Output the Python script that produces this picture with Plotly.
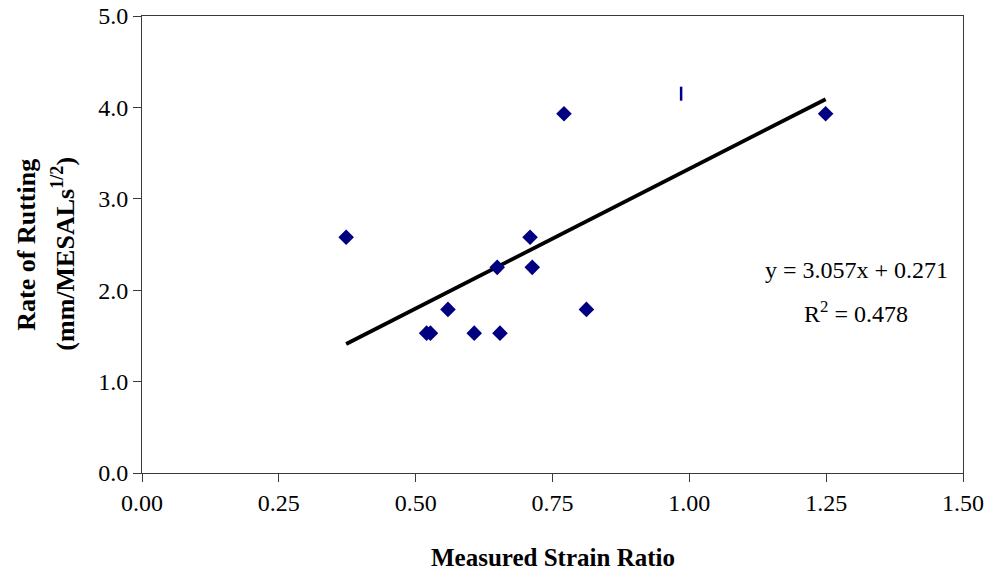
import plotly.graph_objects as go

# Data
strain_ratio = [0.373, 0.771, 1.249, 0.709, 0.649, 0.713, 0.559, 0.812, 0.520, 0.527, 0.607, 0.654]
rut_rate = [2.58, 3.93, 3.93, 2.58, 2.25, 2.25, 1.79, 1.79, 1.53, 1.53, 1.53, 1.53]

outlier_x = [0.985]
outlier_y = [4.15]

slope = 3.057
intercept = 0.271
r_squared = 0.478

x_ticks = [0.0, 0.25, 0.5, 0.75, 1.0, 1.25, 1.5]
y_ticks = [0.0, 1.0, 2.0, 3.0, 4.0, 5.0]

trend_x = [min(strain_ratio), max(strain_ratio)]
trend_y = [slope * v + intercept for v in trend_x]

FONT = "Liberation Serif"
AXC = "#3a3a3a"

fig = go.Figure()
fig.add_trace(go.Scatter(
    x=trend_x, y=trend_y, mode="lines",
    line=dict(color="black", width=3.8), showlegend=False, hoverinfo="skip"))
fig.add_trace(go.Scatter(
    x=strain_ratio, y=rut_rate, mode="markers",
    marker=dict(symbol="diamond", size=12, color="#000080"),
    showlegend=False))
fig.add_trace(go.Scatter(
    x=outlier_x, y=outlier_y, mode="markers",
    marker=dict(symbol="line-ns", size=10, color="#000080",
                line=dict(color="#000080", width=2.5)),
    showlegend=False))

fig.update_layout(
    width=990, height=575,
    margin=dict(l=142, r=27, t=16, b=102, autoexpand=False),
    paper_bgcolor="white", plot_bgcolor="white",
    font=dict(family=FONT, size=22, color="black"),
    showlegend=False,
    xaxis=dict(
        range=[0, 1.5], tickvals=x_ticks,
        ticktext=[f"{v:.2f}" for v in x_ticks],
        showgrid=False, zeroline=False, automargin=False,
        showline=True, mirror=True, linecolor=AXC, linewidth=1,
        ticks="outside", ticklen=8, tickcolor=AXC, tickwidth=1,
        tickfont=dict(family=FONT, size=24),
    ),
    yaxis=dict(
        range=[0, 5], tickvals=y_ticks,
        ticktext=[f"{v:.1f}" for v in y_ticks],
        showgrid=False, zeroline=False, automargin=False,
        showline=True, mirror=True, linecolor=AXC, linewidth=1,
        ticks="outside", ticklen=8, tickcolor=AXC, tickwidth=1,
        tickfont=dict(family=FONT, size=24),
    ),
    annotations=[
        dict(text="<b>Measured Strain Ratio</b>", xref="paper", yref="paper",
             x=0.5, y=-0.184, yanchor="middle", xanchor="center", showarrow=False,
             font=dict(family=FONT, size=25)),
        dict(text="<b>Rate of Rutting</b>", xref="paper", yref="paper",
             x=-0.141, xanchor="center", y=0.5, yanchor="middle", textangle=-90,
             showarrow=False, font=dict(family=FONT, size=26)),
        dict(text="<b>(mm/MESALs<sup>1/2</sup>)</b>", xref="paper", yref="paper",
             x=-0.095, xanchor="center", y=0.48, yanchor="middle", textangle=-90,
             showarrow=False, font=dict(family=FONT, size=26)),
        dict(text=f"y = {slope:.3f}x + {intercept:.3f}", xref="x", yref="y",
             x=1.305, y=2.22, xanchor="center", yanchor="middle", showarrow=False,
             font=dict(family=FONT, size=24)),
        dict(text=f"R<sup>2</sup> = {r_squared:.3f}", xref="x", yref="y",
             x=1.305, y=1.76, xanchor="center", yanchor="middle", showarrow=False,
             font=dict(family=FONT, size=24)),
    ],
)

fig.write_html("out.html")
